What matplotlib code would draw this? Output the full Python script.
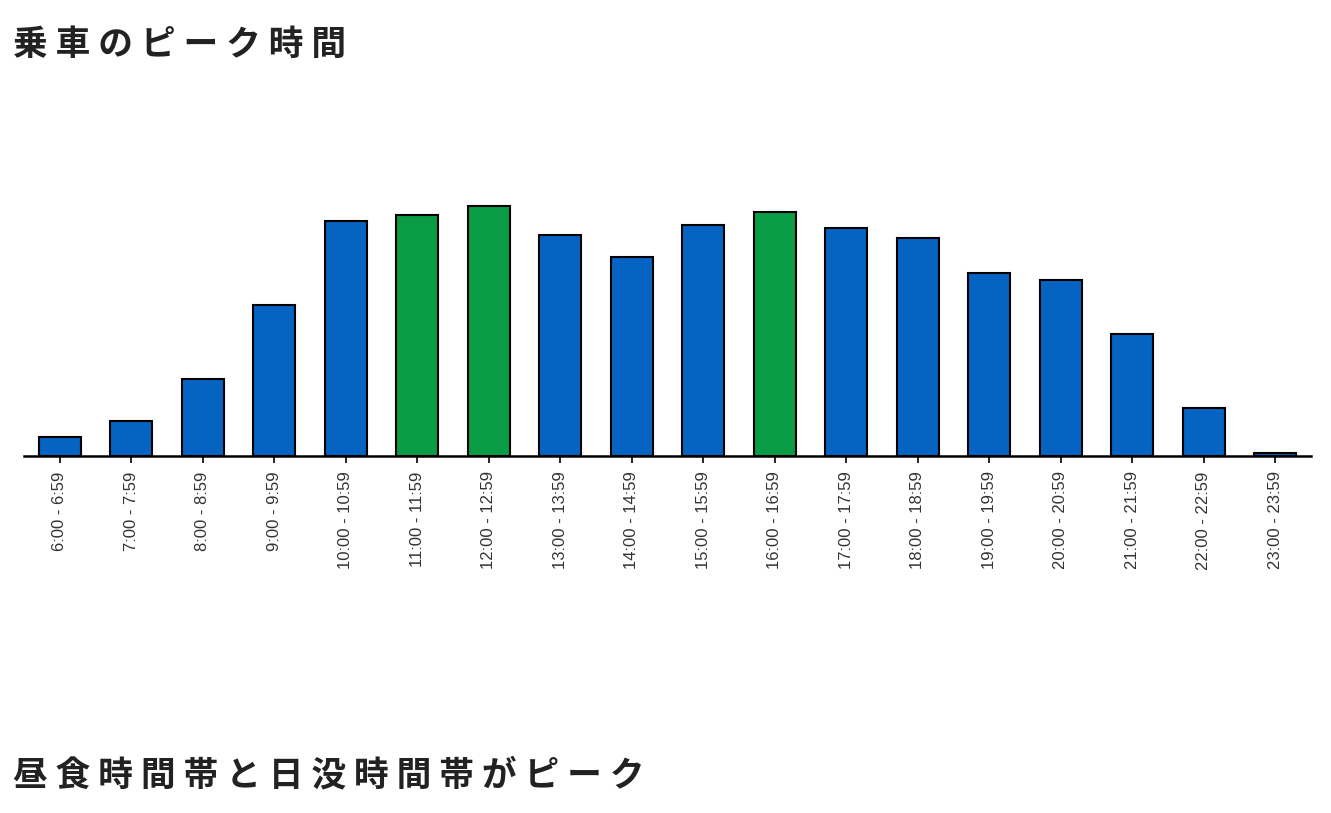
import matplotlib.pyplot as plt

plt.rcParams['font.family'] = ['Noto Sans CJK JP', 'DejaVu Sans']

hours = [f"{h}:00 - {h}:59" for h in range(6, 24)]
values = [19, 35, 77, 151, 235, 241, 250, 221, 199, 231, 244, 228, 218, 183, 176, 122, 48, 3]
peaks = ["11:00 - 11:59", "12:00 - 12:59", "16:00 - 16:59"]

blue = "#0563c1"
green = "#0a9b45"
colors = [green if h in peaks else blue for h in hours]

fig = plt.figure(figsize=(13.31, 8.13), dpi=100)
ax = fig.add_axes([0.018, 0.439, 0.967, 0.36])
ax.bar(range(len(hours)), values, width=0.59, color=colors, edgecolor="black", linewidth=1.5)
ax.set_xlim(-0.5, len(hours) - 0.5)
ax.set_ylim(0, 293)
ax.set_xticks(range(len(hours)))
ax.set_xticklabels(hours, rotation=90, fontsize=12, color="#333333", family="Liberation Sans")
ax.tick_params(axis="x", length=5, width=1.2, pad=6)
ax.set_yticks([])
for s in ["top", "right", "left"]:
    ax.spines[s].set_visible(False)
ax.spines["bottom"].set_linewidth(1.8)

fig.text(0.01, 0.945, "乗 車 の ピ ー ク 時 間", fontsize=25, fontweight="bold", va="center", color="#222222")
fig.text(0.01, 0.047, "昼 食 時 間 帯 と 日 没 時 間 帯 が ピ ー ク", fontsize=25, fontweight="bold", va="center", color="#222222")

fig.savefig("out.png", dpi=100)
